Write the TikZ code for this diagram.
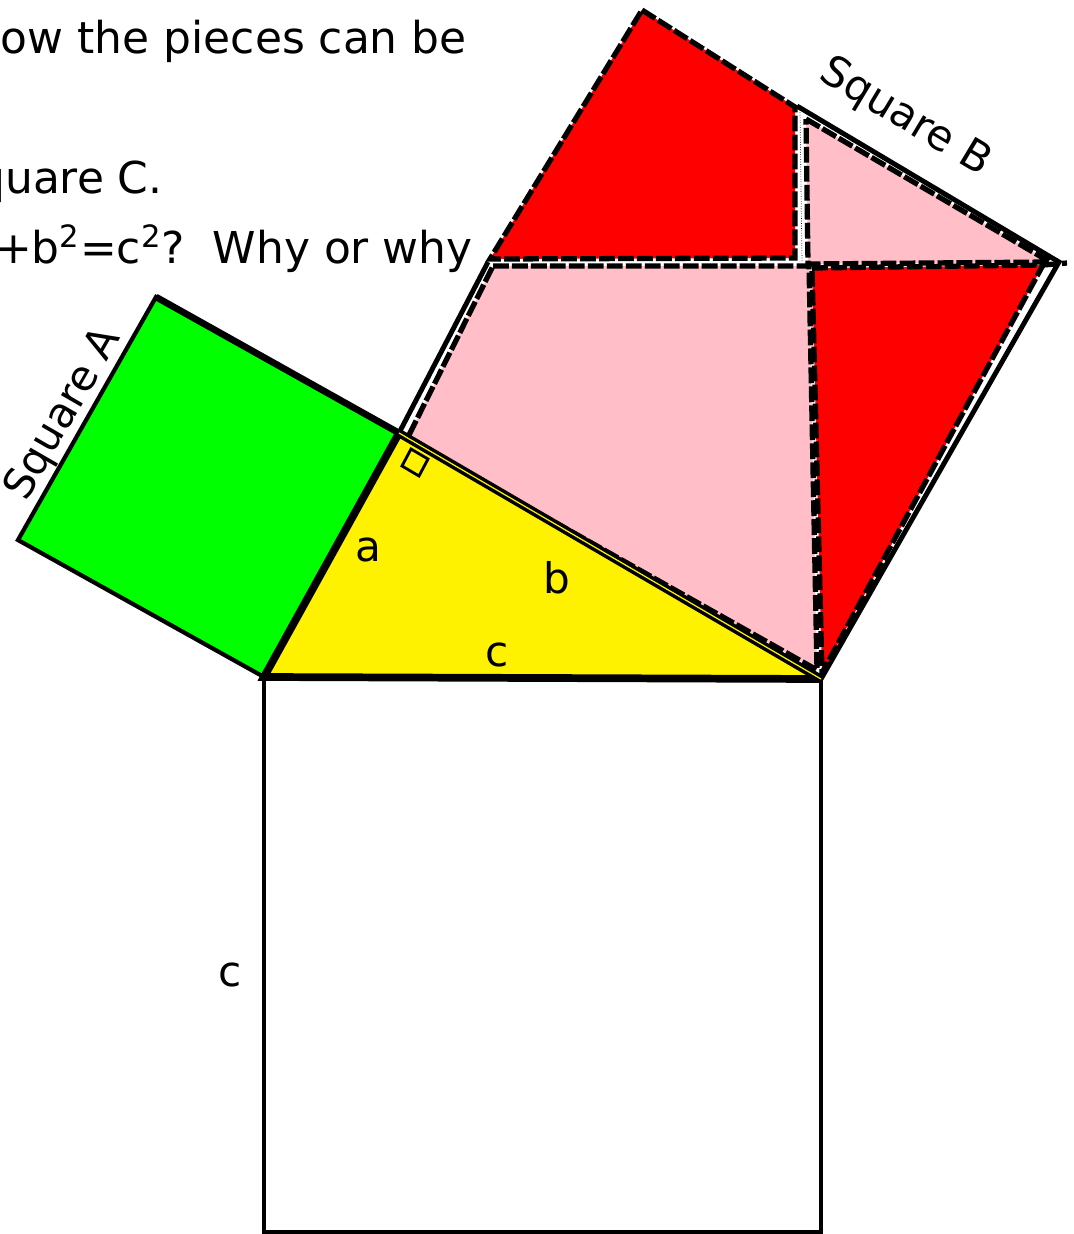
\documentclass[tikz,border=0pt]{standalone}
\usepackage{fontspec}
\setmainfont{DejaVu Sans}
\definecolor{piecepink}{RGB}{255,190,200}
\begin{document}
\begin{tikzpicture}[x=0.02cm,y=-0.02cm,
  cut/.style={line width=3pt,dash pattern=on 9pt off 1.8pt},
  side/.style={font=\fontsize{24}{28}\selectfont},
  ask/.style={font=\fontsize{25}{30}\selectfont,anchor=base east,inner sep=0pt}]
\useasboundingbox (0,0) rectangle (1074,1234);
\clip (0,0) rectangle (1074,1234);
% corners of the triangle
\coordinate (L) at (264,677);
\coordinate (T) at (399,433);
\coordinate (R) at (821,679);
% square A
\coordinate (A1) at (156,297);
\coordinate (A2) at (18,540);
% square B
\coordinate (B1) at (642,10);
\coordinate (B2) at (1059,262);
% square C
\coordinate (C1) at (264,1232);
\coordinate (C2) at (821,1232);

% question
\node[ask] (q1) at (467,53) {ow the pieces can be};
\node[ask] (q2) at (163,193) {quare C.};
\node[ask] (q3) at (473,263) {+b\textsuperscript{2}=c\textsuperscript{2}?~~Why or why};

% square C
\draw[line width=2pt] (L) -- (C1) -- (C2) -- (R);
\node[side] (c2) at (230,975) {c};

% square A
\filldraw[fill=green,line width=2.4pt] (L) -- (A2) -- (A1) -- (T) -- cycle;
\draw[line width=3.8pt] (A1) -- (T);
\node[side,rotate=60] (sqA) at (64,414) {Square A};

% square B and its pieces
\draw[line width=2.8pt] (488,262) -- (T);
\draw[line width=2.8pt] (797,106) -- (B2) -- (R);
\filldraw[fill=piecepink,cut] (493,266) -- (809,266) -- (817,670) -- (407,439) -- cycle;
\filldraw[fill=piecepink,cut] (806,119) -- (1050,262) -- (808,264) -- cycle;
\filldraw[fill=red,cut] (B1) -- (795,107) -- (795,258) -- (490,259) -- cycle;
\filldraw[fill=red,cut] (812,268) -- (1043,265) -- (822,673) -- cycle;
\draw[cut] (1043,265) -- (1067,263);
\draw[densely dotted,thin] (800,110) -- (802,262);
\node[side,rotate=-31] (sqB) at (905,118) {Square B};

% triangle
\fill[yellow] (L) -- (T) -- (R) -- cycle;
\draw[line width=4.4pt] (R) -- (L) -- (T);
\draw[line width=2pt,double=yellow,double distance=0.7pt] (T) -- (R);
\draw[line width=1.6pt] (411,449) -- ++(-9,17) -- ++(17,10) -- ++(9,-17) -- cycle;
\node[side] (a) at (368,550) {a};
\node[side] (b) at (557,578) {b};
\node[side] (c1) at (497,655) {c};
\end{tikzpicture}
\end{document}
